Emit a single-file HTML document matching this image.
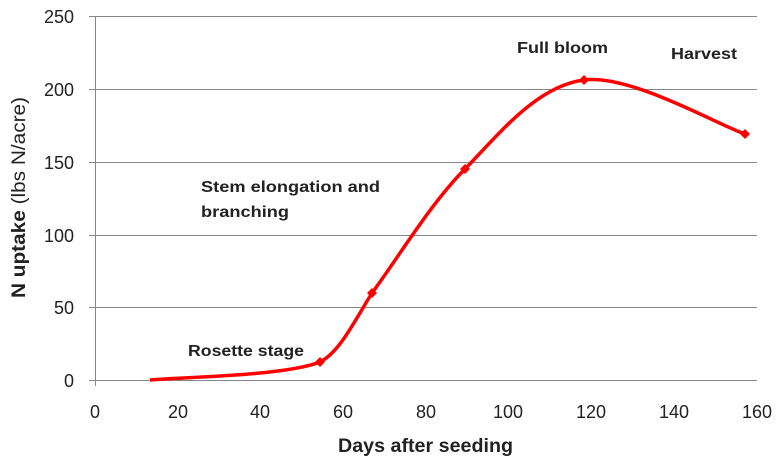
<!DOCTYPE html>
<html><head><meta charset="utf-8"><style>
html,body{margin:0;padding:0;background:#fff;}
svg{display:block;font-family:"Liberation Sans",sans-serif;}
</style></head><body>
<svg width="780" height="467" viewBox="0 0 780 467">
<rect width="780" height="467" fill="#fff"/>
<g stroke="#868686" stroke-width="1">
<line x1="89" y1="16.5" x2="757" y2="16.5"/>
<line x1="89" y1="89.5" x2="757" y2="89.5"/>
<line x1="89" y1="162.5" x2="757" y2="162.5"/>
<line x1="89" y1="235.5" x2="757" y2="235.5"/>
<line x1="89" y1="307.5" x2="757" y2="307.5"/>
<line x1="89" y1="380.5" x2="757" y2="380.5"/>
<line x1="95.5" y1="16" x2="95.5" y2="386"/>
</g>
<g font-size="18" fill="#222" text-anchor="end">
<text x="74" y="23">250</text>
<text x="74" y="96">200</text>
<text x="74" y="169">150</text>
<text x="74" y="242">100</text>
<text x="74" y="314">50</text>
<text x="74" y="387">0</text>
</g>
<g font-size="18" fill="#222" text-anchor="middle">
<text x="95" y="418">0</text>
<text x="178" y="418">20</text>
<text x="260" y="418">40</text>
<text x="343" y="418">60</text>
<text x="426" y="418">80</text>
<text x="508" y="418">100</text>
<text x="591" y="418">120</text>
<text x="674" y="418">140</text>
<text x="757" y="418">160</text>
</g>
<text x="338" y="452" font-size="19" font-weight="bold" fill="#222" textLength="175" lengthAdjust="spacingAndGlyphs">Days after seeding</text>
<text transform="translate(25,298) rotate(-90)" font-size="19" fill="#222" textLength="201" lengthAdjust="spacingAndGlyphs"><tspan font-weight="bold">N uptake</tspan> (lbs N/acre)</text>
<path d="M150,380 C178,377 283,376.5 320,362 C340,352 355,320 372,293 C396,261 430,204 465,169 C500,133 537,86 584,80 C631,74 718,125 745,134" fill="none" stroke="#f00" stroke-width="3.5"/>
<g fill="#f00">
<path d="M320,357 l5,5 -5,5 -5,-5z"/>
<path d="M372,288 l5,5 -5,5 -5,-5z"/>
<path d="M465,164 l5,5 -5,5 -5,-5z"/>
<path d="M584,75 l5,5 -5,5 -5,-5z"/>
<path d="M745,129 l5,5 -5,5 -5,-5z"/>
</g>
<g font-size="16" font-weight="bold" fill="#222" lengthAdjust="spacingAndGlyphs">
<text x="517" y="53" textLength="91" lengthAdjust="spacingAndGlyphs">Full bloom</text>
<text x="671" y="59" textLength="66" lengthAdjust="spacingAndGlyphs">Harvest</text>
<text x="201" y="192" textLength="179" lengthAdjust="spacingAndGlyphs">Stem elongation and</text>
<text x="201" y="217" textLength="88" lengthAdjust="spacingAndGlyphs">branching</text>
<text x="188" y="356" textLength="116" lengthAdjust="spacingAndGlyphs">Rosette stage</text>
</g>
</svg>
</body></html>
